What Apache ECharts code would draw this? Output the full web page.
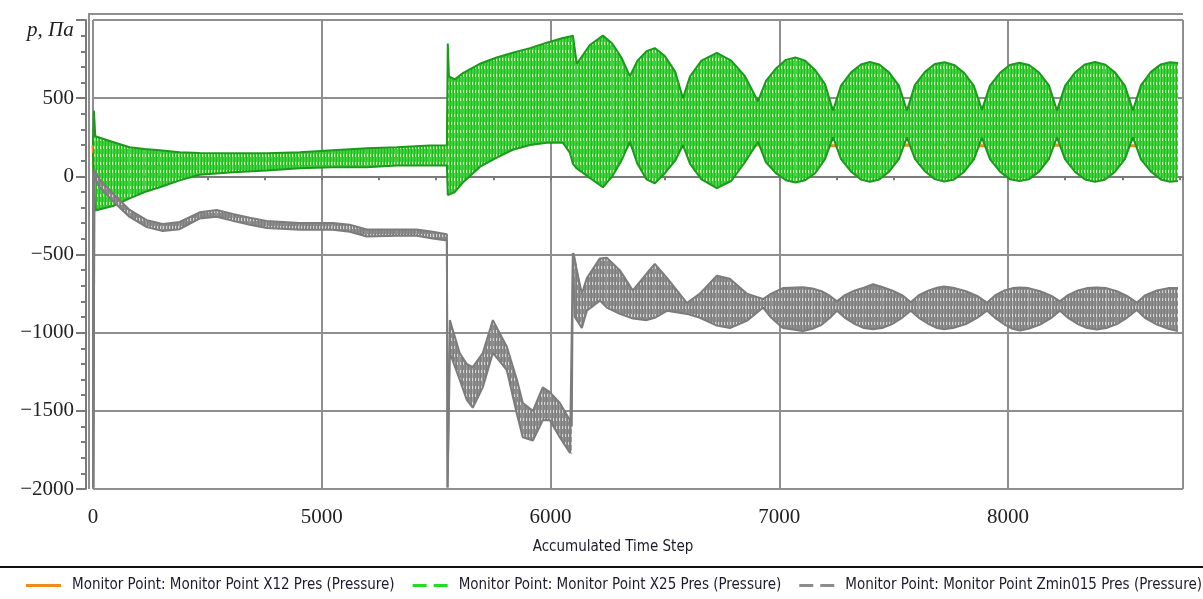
<!DOCTYPE html>
<html>
<head>
<meta charset="utf-8">
<script src="https://cdn.jsdelivr.net/npm/echarts@6/dist/echarts.min.js"></script>
<style>
  html, body { margin: 0; padding: 0; background: #fff; }
  #chart { width: 1203px; height: 599px; }
</style>
</head>
<body>
<div id="chart"></div>
<script>
// Accumulated time-step ticks and the labels printed under them
const xTickValues = [4000, 5000, 6000, 7000, 8000];
const xTickLabels = ['0', '5000', '6000', '7000', '8000'];
const yTickValues = [-2000, -1500, -1000, -500, 0, 500];
const yTickLabels = ['\u22122000', '\u22121500', '\u22121000', '\u2212500', '0', '500'];

const seriesNames = [
  'Monitor Point: Monitor Point X12 Pres (Pressure)',
  'Monitor Point: Monitor Point X25 Pres (Pressure)',
  'Monitor Point: Monitor Point Zmin015 Pres (Pressure)'
];

// X12 pressure, Pa
const x12Step = [4000, 4005, 4050, 4300, 4800, 5300, 5549, 5551, 5553, 5600, 5800, 6000, 6090, 6100, 6200, 6579, 6907, 7235, 7558, 7886, 8214, 8546, 8743];
const x12Pres = [200, 40, 60, 70, 95, 120, 140, 240, 450, 330, 340, 330, 320, 210, 200, 205, 200, 195, 200, 195, 200, 195, 200];

// X25 pressure: upper and lower bounds of the oscillation, Pa
const x25Step = [
  4000, 4004, 4010, 4087, 4160, 4226, 4292, 4379, 4466, 4611, 4759, 4904, 5048, 5197, 5328, 5472, 5547,
  5551, 5556, 5582, 5617, 5691, 5765, 5835, 5910, 5984, 6054, 6085, 6098,
  6115, 6172, 6229, 6270, 6310, 6347, 6380, 6420, 6456, 6500, 6545, 6579, 6610, 6660, 6727, 6790, 6850, 6907,
  6942, 6986, 7029, 7071, 7113, 7157, 7200, 7235,
  7270, 7314, 7357, 7396, 7437, 7480, 7523, 7558,
  7593, 7637, 7680, 7722, 7764, 7808, 7851, 7886,
  7921, 7965, 8008, 8050, 8092, 8136, 8179, 8214,
  8249, 8293, 8337, 8380, 8423, 8467, 8511, 8546,
  8581, 8625, 8668, 8708, 8743];
const x25High = [
  200, 420, 256, 220, 186, 175, 167, 154, 150, 147, 147, 154, 167, 179, 186, 198, 199,
  850, 640, 620, 660, 720, 760, 790, 820, 855, 885, 895, 900,
  720, 840, 900, 850, 760, 640, 740, 800, 820, 770, 670, 500, 640, 740, 790, 740, 640, 480,
  610, 690, 745, 760, 740, 680, 590, 420,
  580, 665, 715, 732, 715, 665, 580, 420,
  585, 668, 718, 730, 713, 662, 578, 425,
  580, 662, 712, 726, 712, 664, 582, 420,
  578, 664, 716, 731, 716, 666, 580, 422,
  582, 668, 716, 730, 725];
const x25Low = [
  150, -60, -218, -190, -141, -100, -70, -26, 10, 26, 38, 51, 58, 58, 70, 70, 70,
  -120, -110, -100, -40, 60, 120, 170, 200, 215, 215, 150, 80,
  50, -10, -70, 0, 100, 220, 80, -20, -45, 20, 100, 200, 80, -20, -75, -30, 90, 220,
  90, 20, -25, -40, -25, 20, 110, 250,
  110, 30, -20, -35, -20, 30, 110, 250,
  112, 32, -18, -33, -20, 28, 108, 248,
  110, 30, -18, -30, -18, 30, 112, 250,
  110, 28, -20, -35, -22, 28, 110, 250,
  108, 30, -20, -35, -30];

// Zmin015 pressure: upper and lower bounds, Pa
const zminStep = [
  3999, 4002, 4006, 4029, 4087, 4160, 4235, 4305, 4379, 4466, 4541, 4611, 4685, 4759, 4904, 5048, 5122, 5197, 5328, 5415, 5485, 5547,
  5550, 5560, 5603, 5634, 5660, 5704, 5748, 5809, 5853, 5879, 5923, 5966, 5997, 6041, 6085, 6093,
  6098, 6106, 6137, 6159, 6216, 6246, 6303, 6360, 6421, 6456, 6509, 6596, 6653, 6727, 6784, 6858, 6929, 6965, 7016, 7103,
  7145, 7185, 7222, 7252,
  7287, 7331, 7370, 7410, 7450, 7493, 7537, 7575,
  7610, 7654, 7690, 7720, 7760, 7816, 7865, 7908,
  7943, 7985, 8020, 8052, 8090, 8140, 8190, 8227,
  8262, 8306, 8345, 8388, 8430, 8476, 8520, 8563,
  8598, 8651, 8700, 8743];
const zminHigh = [
  30, -1990, 40, -20, -110, -215, -280, -305, -292, -230, -215, -240, -265, -285, -298, -298, -310, -340, -340, -340, -355, -370,
  -1990, -920, -1130, -1200, -1220, -1130, -920, -1090, -1300, -1450, -1500, -1350, -1380, -1450, -1560, -1600,
  -490, -490, -750, -650, -525, -520, -600, -730, -620, -560, -650, -810, -750, -635, -655, -750, -785, -750, -715, -710,
  -718, -735, -765, -800,
  -760, -730, -712, -690, -708, -730, -760, -805,
  -760, -730, -712, -705, -712, -735, -765, -808,
  -762, -730, -715, -711, -715, -735, -765, -800,
  -760, -730, -715, -711, -715, -735, -765, -808,
  -762, -730, -715, -715];
const zminLow = [
  30, -1990, 0, -70, -160, -260, -325, -350, -338, -270, -258, -285, -310, -330, -342, -342, -355, -385, -380, -380, -398, -410,
  -1990, -1130, -1300, -1430, -1480, -1350, -1130, -1240, -1520, -1670, -1690, -1560, -1560, -1670, -1770, -1780,
  -490, -900, -970, -860, -795, -840, -880, -910, -920, -905, -860, -880, -905, -955, -970, -925, -840, -905, -970, -990,
  -975, -950, -905, -860,
  -905, -945, -970, -978, -970, -945, -905, -860,
  -905, -945, -970, -978, -970, -945, -905, -860,
  -905, -948, -975, -987, -975, -948, -905, -860,
  -905, -945, -970, -980, -970, -945, -905, -855,
  -905, -948, -975, -990];

const pairs = (xs, ys) => xs.map((x, i) => [x, ys[i]]);
// one row per strip between neighbouring samples: [t0, hi0, lo0, t1, hi1, lo1]
const strips = (xs, hi, lo) => xs.slice(0, -1).map((x, i) => [x, hi[i], lo[i], xs[i + 1], hi[i + 1], lo[i + 1]]);

// small repeating tile that gives the dense trace its hatched look
function hatch(base, stroke, speck) {
  const c = document.createElement('canvas');
  c.width = 3; c.height = 8;
  const g = c.getContext('2d');
  g.fillStyle = base; g.fillRect(0, 0, 3, 8);
  g.fillStyle = stroke; g.fillRect(0, 0, 1, 8);
  g.fillStyle = speck; g.fillRect(1, 2, 1, 3);
  return { image: c, repeat: 'repeat' };
}

function band(name, xs, hi, lo, fillTile, edge, z) {
  return [
    {
      name: name, type: 'custom', z: z, clip: true, silent: true,
      data: strips(xs, hi, lo),
      encode: { x: [0, 3], y: [1, 2, 4, 5] },
      renderItem: (params, api) => {
        const a = api.coord([api.value(0), api.value(1)]);
        const b = api.coord([api.value(3), api.value(4)]);
        const c = api.coord([api.value(3), api.value(5)]);
        const d = api.coord([api.value(0), api.value(2)]);
        return { type: 'polygon', shape: { points: [a, b, c, d] }, style: { fill: fillTile, stroke: null } };
      }
    },
    {
      name: name + ' upper', type: 'line', z: z + 0.1, data: pairs(xs, hi),
      showSymbol: false, silent: true, lineStyle: { color: edge, width: 2 }
    },
    {
      name: name + ' lower', type: 'line', z: z + 0.1, data: pairs(xs, lo),
      showSymbol: false, silent: true, lineStyle: { color: edge, width: 2 }
    }
  ];
}

const greenTile = hatch('#3ad53a', '#27b527', '#c8f7a8');
const greyTile = hatch('#8c8c8c', '#7e7e7e', '#d6d6d6');

const chart = echarts.init(document.getElementById('chart'), null, { renderer: 'canvas' });

const narrowSans = "'Liberation Sans Narrow', 'DejaVu Sans Condensed', sans-serif";
const serif = "'Liberation Serif', 'DejaVu Serif', serif";

const option = {
  animation: false,
  backgroundColor: '#ffffff',
  grid: { left: 93, right: 20, top: 20, bottom: 110, containLabel: false },
  xAxis: {
    type: 'value', min: 4000, max: 8765, interval: 1000, offset: 8,
    axisLine: { show: true, lineStyle: { color: '#7a7a7a', width: 2 } },
    axisTick: { show: true, length: 4, lineStyle: { color: '#7a7a7a', width: 2 } },
    minorTick: { show: true, splitNumber: 4, length: 4, lineStyle: { color: '#7a7a7a', width: 2 } },
    axisLabel: {
      margin: 10, fontFamily: serif, fontSize: 21, color: '#222',
      formatter: v => { const i = xTickValues.indexOf(v); return i >= 0 ? xTickLabels[i] : ''; }
    },
    splitLine: { show: true, lineStyle: { color: '#8f8f8f', width: 2 } }
  },
  yAxis: {
    type: 'value', min: -2000, max: 1000, interval: 500, offset: 7,
    axisLine: { show: true, lineStyle: { color: '#7a7a7a', width: 2 } },
    axisTick: { show: true, length: 10, lineStyle: { color: '#7a7a7a', width: 2 } },
    minorTick: { show: true, splitNumber: 5, length: 5, lineStyle: { color: '#7a7a7a', width: 2 } },
    axisLabel: {
      margin: 12, fontFamily: serif, fontSize: 21, color: '#222',
      formatter: v => { const i = yTickValues.indexOf(v); return i >= 0 ? yTickLabels[i] : ''; }
    },
    splitLine: { show: true, lineStyle: { color: '#8f8f8f', width: 2 } }
  },
  legend: {
    bottom: 6, left: 26, width: 1200, padding: 0, itemWidth: 35, itemHeight: 3, itemGap: 18,
    textStyle: { fontFamily: narrowSans, fontSize: 15, color: '#1b1b2a', padding: [0, 0, 0, 6] },
    data: [
      { name: seriesNames[0], icon: 'path://M0,0H35V3H0Z', itemStyle: { color: '#f08a1c' } },
      { name: seriesNames[1], icon: 'path://M0,0H14V3H0Z M21,0H35V3H21Z', itemStyle: { color: '#22dd22' } },
      { name: seriesNames[2], icon: 'path://M0,0H14V3H0Z M21,0H35V3H21Z', itemStyle: { color: '#8c8c8c' } }
    ]
  },
  graphic: [
    { type: 'line', shape: { x1: 88, y1: 14, x2: 1183, y2: 14 }, style: { stroke: '#8f8f8f', lineWidth: 2 } },
    { type: 'line', shape: { x1: 89, y1: 14, x2: 89, y2: 489 }, style: { stroke: '#8f8f8f', lineWidth: 2 } },
    { type: 'line', shape: { x1: 0, y1: 567, x2: 1203, y2: 567 }, style: { stroke: '#111', lineWidth: 2 } },
    { type: 'text', left: 27, top: 20, style: { text: 'p, Па', font: "italic 21px " + serif, fill: '#222' } },
    { type: 'text', x: 613, y: 547, style: { text: 'Accumulated Time Step', font: "15px " + narrowSans, fill: '#1b1b2a', align: 'center', verticalAlign: 'middle' } }
  ],
  series: [
    {
      name: seriesNames[0], type: 'line', z: 2, data: pairs(x12Step, x12Pres),
      showSymbol: false, silent: true,
      lineStyle: { color: '#f08a1c', width: 3 }, itemStyle: { color: '#f08a1c' }
    },
    ...band(seriesNames[1], x25Step, x25High, x25Low, greenTile, '#1c9a1c', 3),
    ...band(seriesNames[2], zminStep, zminHigh, zminLow, greyTile, '#7c7c7c', 4)
  ]
};

chart.setOption(option);
</script>
</body>
</html>
